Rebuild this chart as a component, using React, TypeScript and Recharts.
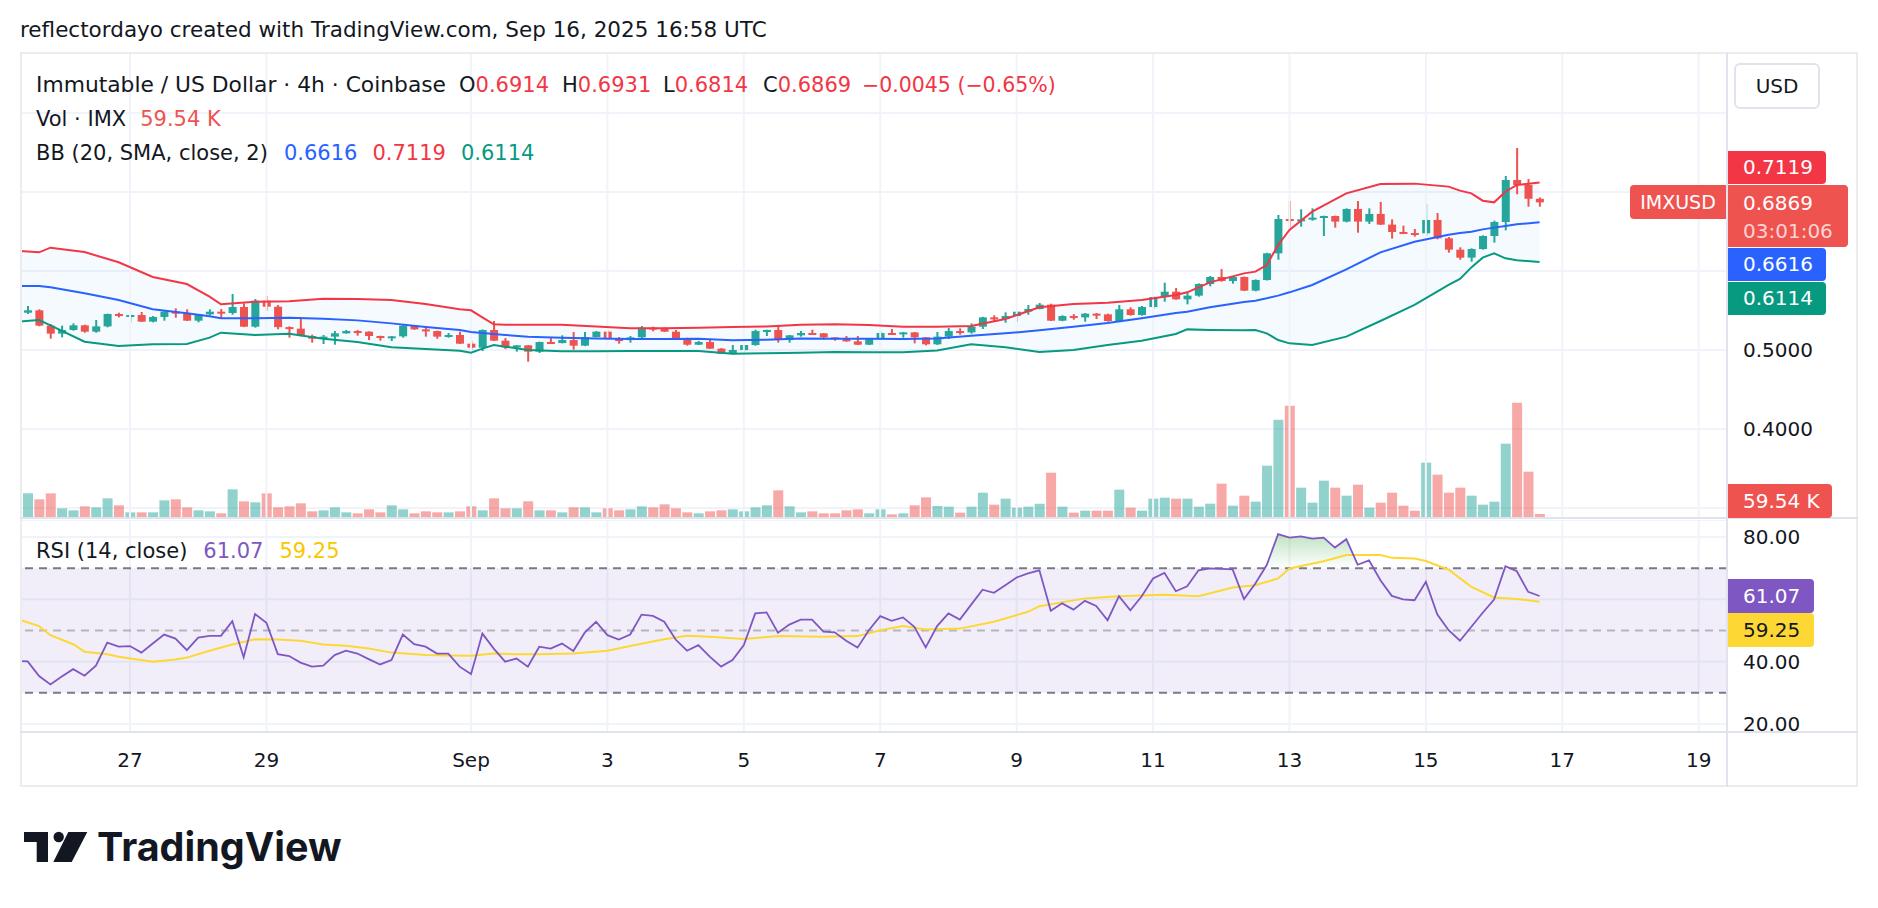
import React from 'react';
import {
  Area,
  Bar,
  CartesianGrid,
  Cell,
  ComposedChart,
  Line,
  ReferenceArea,
  ReferenceLine,
  XAxis,
  YAxis,
} from 'recharts';

// IMX/USD 4h bars: index 0 = Aug 25 08:00 UTC … index 134 = Sep 16 16:00 UTC
const opens = [
  0.5515, 0.5472, 0.5502, 0.5308, 0.5207, 0.5253, 0.5312, 0.5232, 0.5299, 0.5456,
  0.5434, 0.5443, 0.5359, 0.5418, 0.5485, 0.546, 0.5371, 0.5451, 0.5485, 0.5468,
  0.5544, 0.5295, 0.5624, 0.5548, 0.529, 0.527, 0.5177, 0.5143, 0.5169, 0.5211,
  0.524, 0.5232, 0.5177, 0.516, 0.5173, 0.5308, 0.5261, 0.524, 0.5169, 0.519,
  0.508, 0.5029, 0.5253, 0.5118, 0.5033, 0.5059, 0.4979, 0.5101, 0.5088, 0.5126,
  0.5055, 0.5164, 0.5232, 0.5139, 0.5126, 0.516, 0.5283, 0.527, 0.5232, 0.5135,
  0.5067, 0.5101, 0.5017, 0.4953, 0.5, 0.5063, 0.524, 0.5253, 0.5126, 0.5186,
  0.5215, 0.5211, 0.516, 0.5139, 0.5109, 0.5067, 0.5139, 0.5215, 0.5207, 0.5223,
  0.516, 0.5072, 0.5169, 0.524, 0.5223, 0.5295, 0.5413, 0.5392, 0.543, 0.5485,
  0.5519, 0.5574, 0.5371, 0.543, 0.5413, 0.546, 0.5451, 0.5367, 0.5515, 0.5443,
  0.5544, 0.5671, 0.5738, 0.5641, 0.5688, 0.5835, 0.5924, 0.5873, 0.5924, 0.5751,
  0.5886, 0.6224, 0.6658, 0.6637, 0.6654, 0.6675, 0.6696, 0.6625, 0.6785, 0.6625,
  0.6722, 0.6587, 0.6494, 0.6481, 0.6477, 0.6646, 0.6414, 0.627, 0.6169, 0.6278,
  0.6443, 0.662, 0.7152, 0.7089, 0.6914,
];
const highs = [
  0.553, 0.5557, 0.5515, 0.5329, 0.5308, 0.5337, 0.5321, 0.538, 0.546, 0.5472,
  0.5447, 0.5481, 0.543, 0.5506, 0.5527, 0.5515, 0.5455, 0.5515, 0.5519, 0.5709,
  0.5591, 0.5645, 0.5683, 0.5569, 0.5299, 0.5413, 0.5194, 0.519, 0.524, 0.5253,
  0.5253, 0.5236, 0.5181, 0.5177, 0.5316, 0.5312, 0.5287, 0.5245, 0.5215, 0.5232,
  0.5114, 0.526, 0.5367, 0.5152, 0.5063, 0.5063, 0.5105, 0.5152, 0.5186, 0.5228,
  0.5228, 0.524, 0.5245, 0.5164, 0.5177, 0.5304, 0.5295, 0.5287, 0.5253, 0.5156,
  0.5114, 0.5126, 0.5025, 0.5063, 0.5067, 0.5257, 0.5257, 0.5308, 0.519, 0.524,
  0.5257, 0.5215, 0.5164, 0.5177, 0.5177, 0.5147, 0.5236, 0.5266, 0.5228, 0.5228,
  0.5164, 0.5228, 0.5278, 0.5274, 0.5337, 0.542, 0.5439, 0.5477, 0.5489, 0.557,
  0.5595, 0.5586, 0.5439, 0.5455, 0.5468, 0.5468, 0.546, 0.557, 0.554, 0.5557,
  0.5684, 0.5852, 0.5785, 0.573, 0.5844, 0.5937, 0.6025, 0.5928, 0.593, 0.5894,
  0.623, 0.6709, 0.6886, 0.6781, 0.6793, 0.67, 0.67, 0.6793, 0.6886, 0.6793,
  0.6874, 0.6654, 0.6574, 0.6532, 0.6848, 0.6734, 0.643, 0.63, 0.6287, 0.6451,
  0.6637, 0.7203, 0.7557, 0.7165, 0.6931,
];
const lows = [
  0.546, 0.5456, 0.53, 0.5143, 0.516, 0.5245, 0.5219, 0.5219, 0.5287, 0.5413,
  0.535, 0.5355, 0.535, 0.5371, 0.5409, 0.5367, 0.535, 0.5439, 0.5409, 0.5447,
  0.529, 0.5283, 0.5498, 0.5262, 0.5156, 0.5173, 0.5093, 0.5076, 0.5067, 0.5207,
  0.5181, 0.5126, 0.5118, 0.5114, 0.5156, 0.5257, 0.5169, 0.5143, 0.5156, 0.5076,
  0.5, 0.4987, 0.5114, 0.5012, 0.4979, 0.4852, 0.4962, 0.508, 0.5084, 0.5004,
  0.505, 0.516, 0.5135, 0.508, 0.5093, 0.5139, 0.5236, 0.5228, 0.5131, 0.5055,
  0.5063, 0.5013, 0.4949, 0.4945, 0.4979, 0.5055, 0.5177, 0.5093, 0.5093, 0.5169,
  0.5194, 0.5131, 0.5118, 0.5105, 0.5063, 0.5063, 0.5135, 0.5203, 0.5156, 0.5084,
  0.5059, 0.5063, 0.5139, 0.5194, 0.5207, 0.5266, 0.5359, 0.5346, 0.5354, 0.5447,
  0.5515, 0.5367, 0.5365, 0.5384, 0.5359, 0.5392, 0.5359, 0.5363, 0.5435, 0.5435,
  0.5519, 0.5612, 0.5637, 0.5578, 0.5675, 0.5806, 0.5865, 0.584, 0.5747, 0.5743,
  0.588, 0.6143, 0.6549, 0.6561, 0.6637, 0.6443, 0.6549, 0.6616, 0.6485, 0.6595,
  0.6583, 0.6409, 0.6468, 0.6435, 0.6443, 0.6401, 0.6232, 0.6143, 0.6118, 0.627,
  0.6359, 0.6515, 0.6971, 0.6814, 0.6814,
];
const closes = [
  0.5472, 0.5502, 0.5308, 0.5207, 0.5253, 0.5312, 0.5232, 0.5299, 0.5456, 0.5434,
  0.5443, 0.5359, 0.5418, 0.5485, 0.546, 0.5371, 0.5451, 0.5485, 0.5468, 0.5544,
  0.5295, 0.5624, 0.5548, 0.529, 0.527, 0.5177, 0.5143, 0.5169, 0.5211, 0.524,
  0.5232, 0.5177, 0.516, 0.5173, 0.5308, 0.5261, 0.524, 0.5169, 0.519, 0.508,
  0.5029, 0.5253, 0.5118, 0.5033, 0.5059, 0.4979, 0.5101, 0.5088, 0.5126, 0.5055,
  0.5164, 0.5232, 0.5139, 0.5126, 0.516, 0.5283, 0.527, 0.5232, 0.5135, 0.5067,
  0.5101, 0.5017, 0.4953, 0.5, 0.5063, 0.524, 0.5253, 0.5126, 0.5186, 0.5215,
  0.5211, 0.516, 0.5139, 0.5109, 0.5067, 0.5139, 0.5215, 0.5207, 0.5223, 0.516,
  0.5072, 0.5169, 0.524, 0.5223, 0.5295, 0.5413, 0.5392, 0.543, 0.5485, 0.5519,
  0.5574, 0.5371, 0.543, 0.5413, 0.546, 0.5451, 0.5367, 0.5515, 0.5443, 0.5544,
  0.5671, 0.5738, 0.5641, 0.5688, 0.5835, 0.5924, 0.5873, 0.5924, 0.5751, 0.5886,
  0.6224, 0.6658, 0.6637, 0.6654, 0.6675, 0.6696, 0.6625, 0.6785, 0.6625, 0.6722,
  0.6587, 0.6494, 0.6481, 0.6477, 0.6646, 0.6414, 0.627, 0.6169, 0.6278, 0.6443,
  0.662, 0.7152, 0.7089, 0.6914, 0.6869,
];
// volume in thousands of IMX
const volumes = [
  190, 370, 280, 370, 145, 115, 175, 160, 295, 190,
  85, 85, 85, 265, 280, 160, 115, 100, 70, 430,
  250, 235, 370, 160, 175, 220, 100, 115, 160, 85,
  70, 130, 85, 190, 130, 70, 100, 85, 85, 100,
  175, 115, 295, 145, 145, 250, 115, 115, 85, 160,
  160, 85, 145, 115, 130, 175, 160, 205, 145, 85,
  70, 100, 115, 130, 100, 160, 190, 415, 175, 85,
  100, 70, 70, 115, 130, 70, 130, 55, 70, 190,
  310, 180, 170, 80, 170, 380, 200, 290, 155, 170,
  215, 680, 170, 80, 110, 110, 110, 425, 155, 110,
  290, 305, 290, 290, 170, 215, 515, 185, 335, 245,
  785, 1475, 1685, 455, 230, 560, 455, 335, 500, 155,
  230, 380, 185, 110, 830, 650, 380, 455, 335, 200,
  245, 1115, 1730, 695, 59.54,
];

// Bollinger Bands (20, SMA, close, 2) at selected bars
const bbBars = [
  0, 2, 3, 6, 9, 12, 15, 17, 18, 21, 24, 27, 30, 33, 36, 39, 40, 41, 42, 43,
  45, 48, 51, 54, 57, 60, 63, 66, 69, 72, 75, 78, 81, 84, 87, 90, 93, 96, 99, 102,
  103, 105, 108, 109, 110, 111, 112, 114, 117, 120, 123, 126, 127, 128, 129, 130, 131, 132, 134,
];
const bbUpper = [
  0.6257, 0.6236, 0.6295, 0.624, 0.611, 0.5924, 0.5835, 0.5675, 0.5578, 0.5612,
  0.5616, 0.565, 0.5645, 0.5633, 0.5582, 0.5515, 0.5502, 0.5413, 0.5325, 0.5321,
  0.5321, 0.5321, 0.5299, 0.5274, 0.5274, 0.5283, 0.5291, 0.5299, 0.5321, 0.5325,
  0.5316, 0.5295, 0.5295, 0.5304, 0.5392, 0.554, 0.5582, 0.5599, 0.5633, 0.5696,
  0.573, 0.5856, 0.597, 0.5992, 0.6076, 0.6329, 0.6519, 0.6751, 0.6983, 0.7101,
  0.7106, 0.7068, 0.7017, 0.6983, 0.689, 0.6869, 0.7004, 0.7089, 0.7119,
];
const bbBasis = [
  0.581, 0.581, 0.5793, 0.5717, 0.5633, 0.5515, 0.5464, 0.5426, 0.5401, 0.5401,
  0.5409, 0.5396, 0.5375, 0.5337, 0.5291, 0.5253, 0.5228, 0.5215, 0.5202, 0.519,
  0.5169, 0.5156, 0.5147, 0.5139, 0.5139, 0.5143, 0.5122, 0.5131, 0.5147, 0.5143,
  0.5143, 0.5139, 0.5145, 0.5181, 0.5211, 0.5249, 0.5295, 0.5342, 0.5401, 0.5468,
  0.5485, 0.554, 0.5607, 0.5624, 0.5654, 0.5688, 0.573, 0.5823, 0.6021, 0.6236,
  0.6371, 0.646, 0.6481, 0.6498, 0.6527, 0.6549, 0.657, 0.6591, 0.6616,
];
const bbLower = [
  0.5358, 0.538, 0.5312, 0.5105, 0.505, 0.5072, 0.5076, 0.5156, 0.5219, 0.519,
  0.5207, 0.5143, 0.5101, 0.5034, 0.5012, 0.4991, 0.4966, 0.5017, 0.5063, 0.5042,
  0.5, 0.4983, 0.4983, 0.4987, 0.4987, 0.4987, 0.4953, 0.4958, 0.4966, 0.4974,
  0.497, 0.497, 0.4995, 0.5072, 0.5034, 0.4974, 0.5, 0.5063, 0.5118, 0.5202,
  0.5261, 0.5253, 0.5249, 0.5253, 0.5211, 0.5126, 0.5084, 0.5063, 0.5169, 0.5367,
  0.557, 0.5823, 0.5899, 0.6046, 0.6169, 0.6224, 0.616, 0.6135, 0.6114,
];

// RSI (14) per bar
const rsiValues = [
  40.2, 40.1, 35.4, 32.7, 35.2, 37.6, 35.5, 38.7, 46.1, 44.8,
  45.0, 42.9, 45.8, 48.7, 47.4, 43.7, 47.7, 48.3, 48.3, 53.0,
  41.4, 55.3, 52.5, 42.4, 41.8, 39.7, 38.4, 38.7, 42.1, 43.5,
  42.6, 40.8, 39.1, 40.5, 48.7, 45.6, 44.8, 42.6, 42.6, 38.4,
  36.0, 49.0, 44.2, 40.0, 41.0, 38.4, 44.8, 44.2, 45.8, 43.4,
  49.3, 52.8, 48.5, 47.1, 48.7, 55.1, 54.7, 52.8, 47.1, 43.5,
  45.3, 41.6, 38.4, 40.5, 45.3, 55.5, 55.8, 49.3, 51.9, 53.5,
  53.5, 49.6, 49.4, 46.7, 44.5, 50.1, 54.6, 53.1, 54.2, 51.2,
  44.6, 51.4, 55.5, 53.5, 58.3, 63.1, 62.1, 64.5, 67.0, 68.3,
  69.3, 56.3, 58.7, 56.7, 59.5, 57.9, 53.3, 61.0, 56.5, 61.0,
  66.7, 68.5, 62.6, 64.2, 69.3, 69.9, 69.8, 69.6, 60.1, 65.1,
  71.0, 80.9, 79.8, 80.2, 79.5, 79.8, 76.6, 79.3, 71.1, 72.5,
  66.1, 61.1, 60.0, 59.7, 65.6, 55.2, 50.1, 46.7, 51.2, 55.7,
  59.9, 70.6, 69.0, 62.4, 61.07,
];
// RSI-based moving average at selected bars
const rsiMaBars = [
  0, 2, 3, 5, 6, 8, 9, 12, 14, 15, 17, 19, 21, 23, 25, 27, 29, 31, 33, 36,
  38, 40, 42, 44, 46, 49, 52, 54, 57, 59, 61, 64, 67, 71, 74, 76, 78, 80, 83, 86,
  89, 90, 94, 97, 101, 104, 107, 109, 111, 112, 115, 117, 120, 121, 123, 124, 126, 128, 130, 132, 134,
];
const rsiMaValues = [
  53.8, 51.4, 48.5, 45.6, 43.2, 42.4, 41.6, 40.0, 40.7, 41.3, 43.5, 45.5, 47.2, 47.1, 46.7, 45.5, 45.1, 44.2, 42.9, 42.1,
  42.0, 41.9, 42.6, 42.4, 42.4, 42.6, 43.5, 45.0, 47.2, 48.3, 48.0, 47.3, 48.2, 48.0, 48.2, 50.1, 51.4, 50.3, 50.6, 52.8,
  56.0, 57.8, 60.3, 61.0, 61.5, 61.0, 63.8, 64.5, 66.7, 69.9, 72.2, 74.2, 74.2, 73.3, 73.1, 72.3, 69.5, 64.0, 60.6, 60.1, 59.25,
];

// time axis: bar index of each labelled day
const dateTicks = [10, 22, 40, 52, 64, 76, 88, 100, 112, 124, 136, 148];
const dateLabels = ['27', '29', 'Sep', '3', '5', '7', '9', '11', '13', '15', '17', '19'];
const priceTicks = [0.3, 0.4, 0.5, 0.6, 0.7, 0.8];
const priceLabelTicks = [0.4, 0.5];
const rsiTicks = [20, 40, 60, 80];
const rsiLabelTicks = [20, 40, 80];

const FONT = '"DejaVu Sans", Verdana, sans-serif';
const TEXT = '#131722';
const UP = '#26a69a';
const DOWN = '#ef5350';
const VOL_UP = 'rgba(38,166,154,0.5)';
const VOL_DOWN = 'rgba(239,83,80,0.5)';
const GRID = '#f0f3fa';
const LINE = '#e0e3eb';
const BB_UP = '#f23645';
const BB_MID = '#2962ff';
const BB_LOW = '#089981';
const RSI_COLOR = '#7e57c2';
const MA_COLOR = '#fdd835';

// horizontal scale shared by both panes (bar index units)
const X_MIN = 0.3229;
const X_MAX = 150.49;
const P_MIN = 0.28734;
const P_MAX = 0.87595;
const VOL_MAX = 6975;
const R_MIN = 17.43;
const R_MAX = 85.45;

type Row = {
  i: number;
  open: number;
  high: number;
  low: number;
  close: number;
  vol: number;
  rsi: number;
};

const rows: Row[] = closes.map((close, i) => ({
  i,
  open: opens[i],
  high: highs[i],
  low: lows[i],
  close,
  vol: volumes[i],
  rsi: rsiValues[i],
}));

const bbRows = bbBars.map((i, k) => ({
  i,
  upper: bbUpper[k],
  basis: bbBasis[k],
  lower: bbLower[k],
  band: [bbLower[k], bbUpper[k]],
}));

const maRows = rsiMaBars.map((i, k) => ({ i, ma: rsiMaValues[k] }));

function CandleShape(props: any) {
  const { x, y, width, height, payload } = props;
  if (x == null || !payload) return null;
  const top = Math.min(y, y + height);
  const span = Math.abs(height);
  const { open, high, low, close } = payload as Row;
  const k = span / (high - low || 1);
  const yOpen = top + (high - open) * k;
  const yClose = top + (high - close) * k;
  const color = close >= open ? UP : DOWN;
  const cx = x + width / 2;
  const bodyTop = Math.min(yOpen, yClose);
  const bodyH = Math.max(Math.abs(yClose - yOpen), 2);
  return (
    <g>
      <rect x={cx - 1} y={top} width={2} height={span} fill={color} />
      <rect x={cx - 4} y={bodyTop} width={8} height={bodyH} fill={color} />
    </g>
  );
}

function PriceTick(props: any) {
  const { y, payload } = props;
  if (!priceLabelTicks.includes(payload.value)) return null;
  return (
    <text x={1723} y={y} dominantBaseline="central" fontSize={20} fill={TEXT} fontFamily={FONT}>
      {payload.value.toFixed(4)}
    </text>
  );
}

function RsiTick(props: any) {
  const { y, payload } = props;
  if (!rsiLabelTicks.includes(payload.value)) return null;
  return (
    <text x={1723} y={y} dominantBaseline="central" fontSize={20} fill={TEXT} fontFamily={FONT}>
      {payload.value.toFixed(2)}
    </text>
  );
}

function DateTick(props: any) {
  const { x, payload } = props;
  const label = dateLabels[dateTicks.indexOf(payload.value)];
  return (
    <text x={x} y={240} textAnchor="middle" dominantBaseline="central" fontSize={20} fill={TEXT} fontFamily={FONT}>
      {label}
    </text>
  );
}

function PricePane() {
  return (
    <ComposedChart width={1838} height={465} data={rows} margin={{ top: 0, right: 0, bottom: 0, left: 0 }}>
      <XAxis xAxisId="c" type="number" dataKey="i" domain={[X_MIN, X_MAX]} allowDataOverflow hide />
      <XAxis xAxisId="v" type="number" dataKey="i" domain={[X_MIN, X_MAX]} allowDataOverflow hide />
      <YAxis
        yAxisId="p"
        orientation="right"
        width={131}
        domain={[P_MIN, P_MAX]}
        allowDataOverflow
        ticks={priceTicks}
        interval={0}
        tick={<PriceTick />}
        axisLine={false}
        tickLine={false}
      />
      <YAxis yAxisId="v" hide domain={[0, VOL_MAX]} allowDataOverflow />
      <CartesianGrid xAxisId="c" yAxisId="p" vertical={false} stroke={GRID} strokeWidth={2} />
      {dateTicks.map((t) => (
        <ReferenceLine key={t} xAxisId="c" yAxisId="p" x={t} stroke={GRID} strokeWidth={2} />
      ))}
      <Bar xAxisId="v" yAxisId="v" dataKey="vol" barSize={10} isAnimationActive={false}>
        {rows.map((r) => (
          <Cell key={r.i} fill={r.close >= r.open ? VOL_UP : VOL_DOWN} />
        ))}
      </Bar>
      <Area
        xAxisId="c"
        yAxisId="p"
        data={bbRows}
        dataKey="band"
        type="linear"
        stroke="none"
        fill="rgba(33,150,243,0.05)"
        fillOpacity={1}
        isAnimationActive={false}
      />
      <Line xAxisId="c" yAxisId="p" data={bbRows} dataKey="upper" type="linear" stroke={BB_UP} strokeWidth={2} dot={false} isAnimationActive={false} />
      <Line xAxisId="c" yAxisId="p" data={bbRows} dataKey="basis" type="linear" stroke={BB_MID} strokeWidth={2} dot={false} isAnimationActive={false} />
      <Line xAxisId="c" yAxisId="p" data={bbRows} dataKey="lower" type="linear" stroke={BB_LOW} strokeWidth={2} dot={false} isAnimationActive={false} />
      <Bar
        xAxisId="c"
        yAxisId="p"
        dataKey={(d: Row) => [d.low, d.high]}
        barSize={10}
        shape={<CandleShape />}
        isAnimationActive={false}
      />
    </ComposedChart>
  );
}

function RsiPane() {
  return (
    <ComposedChart width={1838} height={267} data={rows} margin={{ top: 0, right: 0, bottom: 0, left: 0 }}>
      <defs>
        <linearGradient id="rsiOverbought" x1="0" y1="0" x2="0" y2="1">
          <stop offset="0%" stopColor="#4caf50" stopOpacity={0.35} />
          <stop offset="100%" stopColor="#4caf50" stopOpacity={0} />
        </linearGradient>
      </defs>
      <XAxis
        type="number"
        dataKey="i"
        domain={[X_MIN, X_MAX]}
        allowDataOverflow
        ticks={dateTicks}
        interval={0}
        height={55}
        axisLine={false}
        tickLine={false}
        tick={<DateTick />}
      />
      <YAxis
        orientation="right"
        width={131}
        domain={[R_MIN, R_MAX]}
        allowDataOverflow
        ticks={rsiTicks}
        interval={0}
        tick={<RsiTick />}
        axisLine={false}
        tickLine={false}
      />
      <CartesianGrid stroke={GRID} strokeWidth={2} />
      <ReferenceArea y1={30} y2={70} fill={RSI_COLOR} fillOpacity={0.1} stroke="none" />
      <ReferenceLine y={70} stroke="#787b86" strokeWidth={2} strokeDasharray="8 6" />
      <ReferenceLine y={50} stroke="#787b86" strokeOpacity={0.5} strokeWidth={2} strokeDasharray="8 6" />
      <ReferenceLine y={30} stroke="#787b86" strokeWidth={2} strokeDasharray="8 6" />
      <Area
        dataKey={(d: Row) => [70, Math.max(70, d.rsi)]}
        type="linear"
        stroke="none"
        fill="url(#rsiOverbought)"
        fillOpacity={1}
        isAnimationActive={false}
      />
      <Line data={maRows} dataKey="ma" type="linear" stroke={MA_COLOR} strokeWidth={2} dot={false} isAnimationActive={false} />
      <Line dataKey="rsi" type="linear" stroke={RSI_COLOR} strokeWidth={1.8} dot={false} isAnimationActive={false} />
    </ComposedChart>
  );
}

function Tag({
  top,
  width,
  height = 33,
  bg,
  color = '#fff',
  children,
}: {
  top: number;
  width: number;
  height?: number;
  bg: string;
  color?: string;
  children: React.ReactNode;
}) {
  return (
    <div
      style={{
        position: 'absolute',
        left: 1728,
        top,
        width,
        height,
        background: bg,
        color,
        borderRadius: '0 4px 4px 0',
        paddingLeft: 15,
        boxSizing: 'border-box',
        fontSize: 20,
        lineHeight: `${height}px`,
        whiteSpace: 'nowrap',
      }}
    >
      {children}
    </div>
  );
}

function Logo() {
  return (
    <svg width={360} height={48} style={{ position: 'absolute', left: 20, top: 824 }}>
      <path d="M4 8 H28 V38 H16.7 V18 H4 Z" fill="#131722" />
      <circle cx={38.7} cy={13} r={5.2} fill="#131722" />
      <path d="M48.3 8 H67.3 L51.7 38 H33.3 Z" fill="#131722" />
      <text x={77} y={37} fontFamily="Inter, Lato, sans-serif" fontWeight={700} fontSize={39.5} fill="#131722">
        TradingView
      </text>
    </svg>
  );
}

// one legend fragment placed at its own left edge
function Piece({ left, top, color = TEXT, size = 21, children }: { left: number; top: number; color?: string; size?: number; children: React.ReactNode }) {
  return (
    <div style={{ position: 'absolute', left, top, color, fontSize: size, lineHeight: '26px', whiteSpace: 'nowrap' }}>
      {children}
    </div>
  );
}

export default function App() {
  const red = '#f23645';
  const legend = { position: 'absolute' as const, left: 36, fontSize: 21, lineHeight: '26px', whiteSpace: 'nowrap' as const };
  return (
    <div
      style={{
        position: 'absolute',
        left: 0,
        top: 0,
        width: 1878,
        height: 908,
        background: '#fff',
        fontFamily: FONT,
        color: TEXT,
        overflow: 'hidden',
      }}
    >
      <div style={{ position: 'absolute', left: 20, top: 17, fontSize: 21.5, lineHeight: '26px', whiteSpace: 'nowrap' }}>
        reflectordayo created with TradingView.com, Sep 16, 2025 16:58 UTC
      </div>

      <div style={{ position: 'absolute', left: 20, top: 53 }}>
        <PricePane />
      </div>
      <div style={{ position: 'absolute', left: 20, top: 520 }}>
        <RsiPane />
      </div>

      {/* pane frame and separators */}
      <div style={{ position: 'absolute', left: 20, top: 52, width: 1838, height: 735, border: '2px solid #ececec', boxSizing: 'border-box' }} />
      <div style={{ position: 'absolute', left: 20, top: 517, width: 1838, height: 2, background: LINE }} />
      <div style={{ position: 'absolute', left: 20, top: 731, width: 1838, height: 2, background: LINE }} />
      <div style={{ position: 'absolute', left: 1726, top: 53, width: 2, height: 734, background: LINE }} />

      {/* legends */}
      <Piece left={36} top={72} size={21.8}>Immutable / US Dollar · 4h · Coinbase</Piece>
      <Piece left={459} top={72}>O<span style={{ color: red }}>0.6914</span></Piece>
      <Piece left={562} top={72}>H<span style={{ color: red }}>0.6931</span></Piece>
      <Piece left={663} top={72}>L<span style={{ color: red }}>0.6814</span></Piece>
      <Piece left={763} top={72}>C<span style={{ color: red }}>0.6869</span></Piece>
      <Piece left={862} top={72} size={20.5} color={red}>−0.0045 (−0.65%)</Piece>
      <div style={{ ...legend, top: 106 }}>
        Vol · IMX<span style={{ marginLeft: 14, color: DOWN }}>59.54 K</span>
      </div>
      <div style={{ ...legend, top: 140 }}>
        BB (20, SMA, close, 2)
        <span style={{ marginLeft: 16, color: BB_MID }}>0.6616</span>
        <span style={{ marginLeft: 15, color: BB_UP }}>0.7119</span>
        <span style={{ marginLeft: 15, color: BB_LOW }}>0.6114</span>
      </div>
      <div style={{ ...legend, top: 538 }}>
        RSI (14, close)
        <span style={{ marginLeft: 16, color: RSI_COLOR }}>61.07</span>
        <span style={{ marginLeft: 16, color: '#f7c800' }}>59.25</span>
      </div>

      {/* price scale */}
      <div
        style={{
          position: 'absolute',
          left: 1734,
          top: 63,
          width: 86,
          height: 46,
          border: `2px solid ${LINE}`,
          borderRadius: 6,
          boxSizing: 'border-box',
          fontSize: 20,
          lineHeight: '42px',
          textAlign: 'center',
        }}
      >
        USD
      </div>
      <Tag top={151} width={98} bg={BB_UP}>0.7119</Tag>
      <div
        style={{
          position: 'absolute',
          left: 1630,
          top: 185,
          width: 96,
          height: 34,
          background: DOWN,
          color: '#fff',
          borderRadius: '4px 0 0 4px',
          fontSize: 19,
          lineHeight: '34px',
          textAlign: 'center',
          whiteSpace: 'nowrap',
        }}
      >
        IMXUSD
      </div>
      <div
        style={{
          position: 'absolute',
          left: 1728,
          top: 185,
          width: 120,
          height: 62,
          background: DOWN,
          color: '#fff',
          borderRadius: '0 4px 4px 0',
          paddingLeft: 15,
          boxSizing: 'border-box',
          fontSize: 20,
          lineHeight: '28px',
          paddingTop: 4,
          whiteSpace: 'nowrap',
        }}
      >
        <div>0.6869</div>
        <div style={{ color: 'rgba(255,255,255,0.75)' }}>03:01:06</div>
      </div>
      <Tag top={248} width={98} bg={BB_MID}>0.6616</Tag>
      <Tag top={282} width={98} bg={BB_LOW}>0.6114</Tag>
      <Tag top={484} width={104} height={34} bg={DOWN}>59.54 K</Tag>
      <Tag top={579} width={86} height={34} bg={RSI_COLOR}>61.07</Tag>
      <Tag top={613} width={86} height={34} bg={MA_COLOR} color={TEXT}>59.25</Tag>

      <Logo />
    </div>
  );
}
